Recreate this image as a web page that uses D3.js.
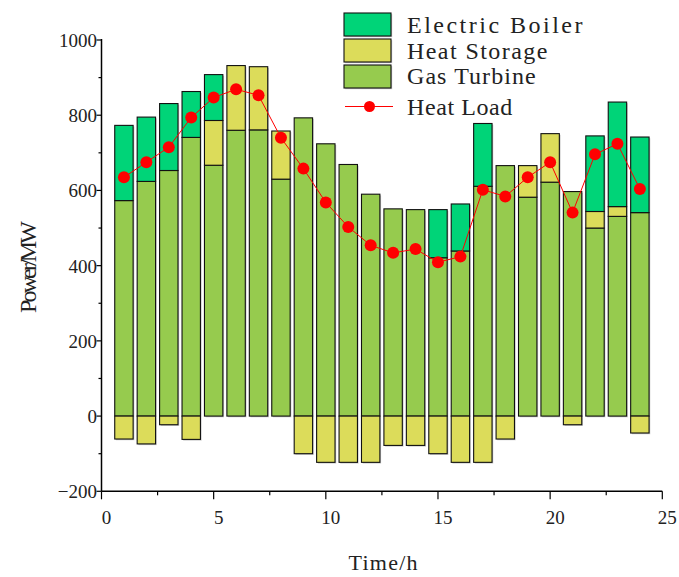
<!DOCTYPE html>
<html><head><meta charset="utf-8">
<script src="https://cdn.jsdelivr.net/npm/d3@7"></script>
<style>body{margin:0;background:#fff}svg{display:block}</style>
</head><body>
<script>
const hours = [1,2,3,4,5,6,7,8,9,10,11,12,13,14,15,16,17,18,19,20,21,22,23,24];
const gasTurbine = [573,624,653,741,667,760,761,630,793,724,669,590,551,549,421,439,611,666,582,622,597,500,531,541];
const heatStorage = [-61,-74,-23,-62,119,172,168,128,-100,-123,-123,-123,-78,-78,-100,-123,-123,-61,84,129,-23,44,26,-45];
const electricBoiler = [200,171,178,122,122,0,0,0,0,0,0,0,0,0,128,125,167,0,0,0,0,201,278,201];
const heatLoad = [635,675,715,794,847,869,853,740,658,568,503,454,434,444,409,424,602,584,635,675,541,696,724,604];
const xTicks = [0,5,10,15,20,25];
const yTicks = [-200,0,200,400,600,800,1000];
const seriesNames = ["Electric Boiler","Heat Storage","Gas Turbine","Heat Load"];
const colors = {eb:"#00D478", hs:"#DCDC5A", gt:"#96CB4E", load:"#FF0000"};

const W=679,H=577;
const svg=d3.select("body").append("svg").attr("width",W).attr("height",H);
const x=d3.scaleLinear().domain([0,25]).range([101.5,662.3]);
const y=d3.scaleLinear().domain([-200,1000]).range([491.3,40]);
const font="'Liberation Serif', serif";
const bw = x(0.82)-x(0);

// bar segments
const segs=[];
hours.forEach((h,i)=>{
  const g=gasTurbine[i], s=heatStorage[i], e=electricBoiler[i];
  segs.push({h,y0:0,y1:g,c:colors.gt});
  if(s>0){segs.push({h,y0:g,y1:g+s,c:colors.hs});}
  else if(s<0){segs.push({h,y0:s,y1:0,c:colors.hs});}
  const base=g+Math.max(s,0);
  if(e>0) segs.push({h,y0:base,y1:base+e,c:colors.eb});
});
const gb=svg.append("g");
gb.selectAll("rect.sh").data(segs).join("rect").attr("class","sh")
  .attr("x",d=>x(d.h)-bw/2+1.2).attr("y",d=>y(d.y1)+1.2)
  .attr("width",bw).attr("height",d=>y(d.y0)-y(d.y1))
  .attr("fill","#9a9a9a").attr("opacity",0.55);
gb.selectAll("rect.bar").data(segs).join("rect").attr("class","bar")
  .attr("x",d=>x(d.h)-bw/2).attr("y",d=>y(d.y1))
  .attr("width",bw).attr("height",d=>y(d.y0)-y(d.y1))
  .attr("fill",d=>d.c).attr("stroke","#111").attr("stroke-width",1.1);

// heat load line
svg.append("path").datum(hours.map((h,i)=>[h,heatLoad[i]]))
  .attr("d",d3.line().x(d=>x(d[0])).y(d=>y(d[1])))
  .attr("fill","none").attr("stroke",colors.load).attr("stroke-width",1);
svg.selectAll("circle.pt").data(hours.map((h,i)=>[h,heatLoad[i]])).join("circle").attr("class","pt")
  .attr("cx",d=>x(d[0])).attr("cy",d=>y(d[1])).attr("r",6).attr("fill",colors.load);

// axes
const ax=svg.append("g").attr("stroke","#000");
ax.append("line").attr("x1",x(0)).attr("x2",x(0)).attr("y1",y(1000)-1).attr("y2",y(-200)).attr("stroke-width",1.5);
ax.append("line").attr("x1",x(0)).attr("x2",x(25)).attr("y1",y(-200)).attr("y2",y(-200)).attr("stroke-width",1.5);
d3.range(-200,1001,100).forEach(v=>{
  const major = v%200===0;
  ax.append("line").attr("x1",x(0)).attr("x2",x(0)-(major?5:3)).attr("y1",y(v)).attr("y2",y(v)).attr("stroke-width",1.2);
});
d3.range(0,25.01,2.5).forEach(v=>{
  const major = v%5===0;
  ax.append("line").attr("x1",x(v)).attr("x2",x(v)).attr("y1",y(-200)).attr("y2",y(-200)+(major?8:4)).attr("stroke-width",1.2);
});
svg.selectAll("text.yt").data(yTicks).join("text").attr("class","yt")
  .attr("x",97).attr("y",d=>y(d)+7).attr("text-anchor","end")
  .attr("font-family",font).attr("font-size",19).attr("fill","#222").text(d=>d<0?"\u2212"+Math.abs(d):d);
svg.selectAll("text.xt").data(xTicks).join("text").attr("class","xt")
  .attr("x",d=>x(d)+5).attr("y",524).attr("text-anchor","middle")
  .attr("font-family",font).attr("font-size",19).attr("fill","#222").text(d=>d);

svg.append("text").attr("x",383).attr("y",570).attr("text-anchor","middle")
  .attr("font-family",font).attr("font-size",22).attr("fill","#222")
  .attr("textLength",69).attr("lengthAdjust","spacing").text("Time/h");
svg.append("text").attr("transform","translate(36,267) rotate(-90)").attr("text-anchor","middle")
  .attr("font-family",font).attr("font-size",24).attr("fill","#222")
  .attr("textLength",92).attr("lengthAdjust","spacing").text("Power/MW");

// legend
const lg=svg.append("g");
const boxes=[{c:colors.eb,y:13},{c:colors.hs,y:39},{c:colors.gt,y:65}];
boxes.forEach(b=>{
  lg.append("rect").attr("x",345.2).attr("y",b.y+1.2).attr("width",47).attr("height",23).attr("fill","#9a9a9a").attr("opacity",0.55);
  lg.append("rect").attr("x",344).attr("y",b.y).attr("width",47).attr("height",23).attr("fill",b.c).attr("stroke","#111").attr("stroke-width",1.1);
});
lg.append("line").attr("x1",345).attr("x2",393).attr("y1",106.5).attr("y2",106.5).attr("stroke",colors.load).attr("stroke-width",1);
lg.append("circle").attr("cx",369.5).attr("cy",106.5).attr("r",5.5).attr("fill",colors.load);
const ly=[33,59,84,115];
seriesNames.forEach((n,i)=>{
  lg.append("text").attr("x",407).attr("y",ly[i]).attr("font-family",font).attr("font-size",24)
    .attr("fill","#222").attr("textLength",n.length*11.7).attr("lengthAdjust","spacing").text(n);
});
</script>
</body></html>
